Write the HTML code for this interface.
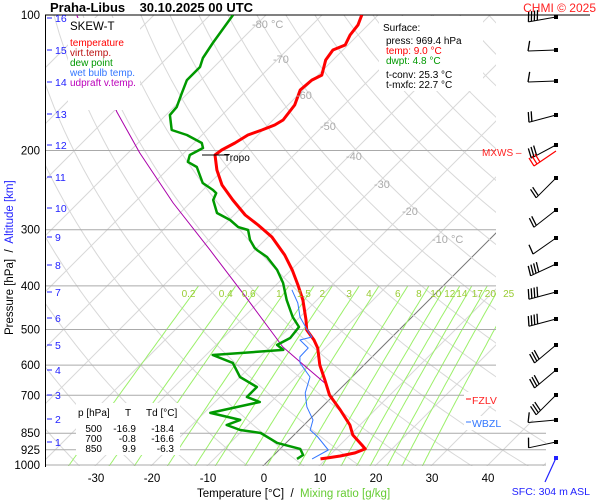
<!DOCTYPE html>
<html><head><meta charset="utf-8"><style>
body{margin:0;background:#fff;}
svg{display:block;font-family:"Liberation Sans",sans-serif;}
</style></head><body>
<svg id="c" width="600" height="500" viewBox="0 0 600 500" xmlns="http://www.w3.org/2000/svg">
<defs><clipPath id="pc"><polygon points="45,15 496,15 496,420 546,420 546,466 45,466"/></clipPath></defs>
<g id="grid" clip-path="url(#pc)"></g>
<g id="iso"></g>
<g id="series" clip-path="url(#pc)"></g>
<g id="labels"></g>
<g id="barbs"></g>
</svg>
<script>
// ---- data ----
const tempP=[100,105.2,110.8,116.6,119.6,125.9,136,139.5,146.8,158.5,171.1,175.6,180.1,184.8,192.5,199.5,204.7,221,238.6,257.7,278.3,292.9,311.4,341.5,368.6,398,430,476,501,527.5,549.5,599.5,647.5,699,754.7,815,857.7,902.6,921,940,955,965,969.4];
const tempT=[-62.9,-61.8,-61.4,-60.5,-61.8,-61.3,-59.3,-60.2,-60.5,-58.8,-58.2,-58.8,-60.2,-61.8,-62.7,-63.8,-64.1,-61.1,-57.5,-52.9,-48.0,-43.9,-39.3,-33.8,-29.8,-26.1,-22.5,-18.4,-16.5,-13.4,-11.3,-7.9,-4.3,-0.8,3.8,8.2,10.5,13.9,15.2,14.1,12.0,10.0,9.0];
const dewP=[100,109.6,115.4,124.6,130.5,139.5,149,160.2,166.8,180.1,184.8,192.5,197.5,204.7,212.1,217.7,236.2,244.9,248.7,257.7,275.4,285.5,296,300.5,316,329.5,333,345,368.6,394,430,469,493.5,522,541,555,569.6,593,637.6,671,706,724.4,766,794,815,836,849,893,921,950,969.4];
const dewT=[-85.9,-85,-84.5,-83.6,-82.5,-82.5,-81.1,-79.5,-79.3,-76.3,-72.7,-68.6,-67.5,-68.6,-67.7,-65.2,-61.3,-58.2,-57.1,-56.4,-53.4,-49.8,-47.1,-44.8,-42.7,-40.4,-39.6,-36.6,-32.5,-29.1,-25.4,-21.3,-18.4,-18.0,-19.1,-17.1,-28.8,-23.8,-20,-15.2,-15.2,-12,-18.9,-12.3,-13.8,-10.5,-6.3,-1.6,3.6,5.2,4.8];
const wetP=[408,436.5,469,501,519.5,527.5,549.5,575,593,637.6,692,743,794,836,866.5,926,969.4];
const wetT=[-26.3,-22.9,-20,-16.4,-14.3,-15.9,-13,-12.9,-11.8,-7.5,-5.5,-2.7,0.7,2,4.6,8.8,7.5];
const parP=[100,164.3,202.6,261.7,333,430,546.8,593,657.6];
const parT=[-113.8,-89.3,-77.9,-63,-48,-32.3,-17.7,-11.6,-3.75];
const pTicks=[100,200,300,400,500,600,700,850,925,1000];
const tTicks=[-30,-20,-10,0,10,20,30,40];
const kmTicks=[16,15,14,13,12,11,10,9,8,7,6,5,4,3,2,1];
const kmY=[18,50,82,114,145,177,208,237,265,292,318,345,370,395,419,442];
const mixVals=[0.2,0.4,0.6,1,1.5,2,3,4,6,8,10,12,14,17,20,25];
// ---- axes ----
const NS="http://www.w3.org/2000/svg";
const yP=p=>15+450*Math.log10(p/100);
const xT=(t,p)=>264+5.6*t+(465-yP(p));
function el(tag,attrs,parent,txt){const e=document.createElementNS(NS,tag);for(const k in attrs)e.setAttribute(k,attrs[k]);if(txt!==undefined)e.textContent=txt;parent.appendChild(e);return e;}
const grid=document.getElementById('grid'),iso=document.getElementById('iso'),ser=document.getElementById('series'),lab=document.getElementById('labels'),bg=document.getElementById('barbs');
for(let t=-130;t<=50;t+=10){const l=el('line',{x1:xT(t,1050),y1:yP(1050),x2:xT(t,100),y2:yP(100),stroke:t===0?'#777':'#d8d8d8','stroke-width':1},grid);

}
for(let th=200;th<=500;th+=10){let d='';for(let p=1050;p>=100;p-=10){const t=th*Math.pow(p/1000,0.286)-273.15;d+=(d?'L':'M')+xT(t,p).toFixed(1)+','+yP(p).toFixed(1);}
const a=el('path',{d:d,fill:'none',stroke:'#d8d8d8','stroke-width':1},grid);

}
const tdOf=e=>{const l=Math.log(e/6.112);return 243.5*l/(17.67-l);};
mixVals.forEach(w=>{let d='';for(let p=1050;p>=400;p-=10){const e=w*p/(622+w);d+=(d?'L':'M')+xT(tdOf(e),p).toFixed(1)+','+yP(p).toFixed(1);}
const m=el('path',{d:d,fill:'none',stroke:'#9cf06a','stroke-width':1},grid);


const e4=w*400/(622+w);
const t=el('text',{x:xT(tdOf(e4),400)-10,y:297,'font-size':10,fill:'#99cc33','text-anchor':'middle'},lab,String(w));

});
pTicks.forEach(p=>{const y=yP(p);const ln=el('line',{x1:45,y1:y,x2:(p>=850?546:(p===100?590:496)),y2:y,stroke:p===100?'#000':'#aaa','stroke-width':1},iso);


const t=el('text',{x:40,y:y+4,'font-size':11.5,'text-anchor':'end',fill:'#000'},lab,String(p));

});
const ax=el('line',{x1:45.5,y1:15,x2:45.5,y2:467,stroke:'#000','stroke-width':1},iso);


tTicks.forEach(t=>{const x=264+5.6*t;const tx=el('text',{x:x,y:482,'font-size':11.5,'text-anchor':'middle'},lab,String(t));

});
kmTicks.forEach((k,i)=>{const y=kmY[i];el('line',{x1:47,y1:y,x2:52,y2:y,stroke:'#2222ff'},lab);
const t=el('text',{x:55,y:y+4,'font-size':10.5,fill:'#2222ff'},lab,String(k));

});
[['-80 °C',252,28],['-70',273,63],['-60',296,99],['-50',320,130],['-40',346,160],['-30',374,188],['-20',402,215],['-10 °C',432,243]].forEach(a=>{const t=el('text',{x:a[1],y:a[2],'font-size':11,fill:'#aaa'},lab,a[0]);

});
function line(P,T,color,w,name){let d='';P.forEach((p,i)=>{d+=(i?'L':'M')+xT(T[i],p).toFixed(1)+','+yP(p).toFixed(1);});
const s=el('path',{d:d,fill:'none',stroke:color,'stroke-width':w,'stroke-linejoin':'round'},ser);

}
line(parP,parT,'#aa00aa',1,'updraft-temp-line');
line(dewP,dewT,'#009900',2.5,'dew-point-line');
line(tempP,tempT,'#ff0000',3,'temperature-line');
line(wetP,wetT,'#3377ff',1,'wet-bulb-line');
// barbs
const barbs=[[17,170,4],[50,178,1],[81,178,1],[115,165,2],[145,152,3],[178,135,2],[210,142,2],[238,145,1],[264,155,4],[292,165,4],[319,165,4],[345,140,3],[370,140,3],[395,135,3],[420,175,1],[442,168,1]];
barbs.forEach(b=>{const x0=556,y0=b[0],a=b[1]*Math.PI/180,L=28;const ex=x0+L*Math.cos(a),ey=y0+L*Math.sin(a);
const g=el('g',{},bg);


el('line',{x1:x0,y1:y0,x2:ex,y2:ey,stroke:'#000','stroke-width':1},g);
el('rect',{x:x0-2,y:y0-2,width:4,height:4,fill:'#000'},g);
const ux=Math.cos(a),uy=Math.sin(a),nx=uy,ny=-ux;
for(let i=0;i<b[2];i++){const bx=ex-ux*3*i,by=ey-uy*3*i;el('line',{x1:bx,y1:by,x2:bx-nx*10-ux*2,y2:by-ny*10-uy*2,stroke:'#000','stroke-width':1.3},g);}});
const sfc=el('line',{x1:556,y1:458,x2:545,y2:482,stroke:'#2222ff','stroke-width':1.2},bg);


el('rect',{x:554,y:456,width:4,height:4,fill:'#2222ff'},bg);
const mx=el('path',{d:'M556,151 L534,166 M534,166 L529,158 M537,164 L532,156 M540,162 L535,154',stroke:'#ff0000',fill:'none','stroke-width':1.2},bg);


</script>
<svg width="600" height="500" style="position:absolute;left:0;top:0" xmlns="http://www.w3.org/2000/svg" font-family="Liberation Sans, sans-serif">
<text x="50" y="12" font-size="13" font-weight="bold">Praha-Libus&#160;&#160;&#160; 30.10.2025 00 UTC</text>
<text x="596" y="12" font-size="12" fill="#ff2222" text-anchor="end">CHMI © 2025</text>
<g>
<rect x="68" y="18" width="72" height="92" fill="#fff"/>
<text x="70" y="30" font-size="11.5">SKEW-T</text>
<text x="70" y="46" font-size="10" fill="#ff0000">temperature</text>
<text x="70" y="56" font-size="10" fill="#bb1111">virt.temp.</text>
<text x="70" y="66" font-size="10" fill="#009900">dew point</text>
<text x="70" y="76" font-size="10" fill="#3377ff">wet bulb temp.</text>
<text x="70" y="86" font-size="10" fill="#bb00bb">udpraft v.temp.</text>
</g>
<g>
<rect x="379" y="16" width="104" height="75" fill="#fff"/>
<text x="383" y="31" font-size="10">Surface:</text>
<text x="386" y="44" font-size="10">press: 969.4 hPa</text>
<text x="386" y="54" font-size="10" fill="#ff0000">temp: 9.0 °C</text>
<text x="386" y="64" font-size="10" fill="#009900">dwpt: 4.8 °C</text>
<text x="386" y="78" font-size="10">t-conv: 25.3 °C</text>
<text x="386" y="88" font-size="10">t-mxfc: 22.7 °C</text>
</g>
<g>
<rect x="76" y="403" width="104" height="52" fill="#fff"/>
<text x="78" y="416" font-size="10">p [hPa]</text><text x="125" y="416" font-size="10">T</text><text x="146" y="416" font-size="10">Td [°C]</text>
<text x="102" y="432" font-size="10" text-anchor="end">500</text><text x="136" y="432" font-size="10" text-anchor="end">-16.9</text><text x="174" y="432" font-size="10" text-anchor="end">-18.4</text>
<text x="102" y="442" font-size="10" text-anchor="end">700</text><text x="136" y="442" font-size="10" text-anchor="end">-0.8</text><text x="174" y="442" font-size="10" text-anchor="end">-16.6</text>
<text x="102" y="452" font-size="10" text-anchor="end">850</text><text x="136" y="452" font-size="10" text-anchor="end">9.9</text><text x="174" y="452" font-size="10" text-anchor="end">-6.3</text>
</g>
<g><line x1="202" y1="155" x2="229" y2="155" stroke="#000"/><text x="224" y="161" font-size="10">Tropo</text></g>
<g><text x="482" y="156" font-size="10" fill="#ff2222">MXWS –</text></g>
<g><rect x="464" y="392" width="44" height="14" fill="#fff"/><line x1="466" y1="399" x2="471" y2="399" stroke="#ff0000"/><text x="472" y="404" font-size="10.5" fill="#ff2222">FZLV</text></g>
<g><rect x="464" y="416" width="42" height="14" fill="#fff"/><line x1="466" y1="422" x2="471" y2="422" stroke="#3377ff"/><text x="472" y="427" font-size="10.5" fill="#3377ff">WBZL</text></g>
<text x="197" y="497" font-size="11.5">Temperature [°C]&#160; /&#160; <tspan fill="#66cc33">Mixing ratio [g/kg]</tspan></text>
<text transform="translate(13,335) rotate(-90)" font-size="11.5">Pressure [hPa]&#160; /&#160; <tspan fill="#2222ff">Altitude [km]</tspan></text>
<text x="590" y="495" font-size="10.5" fill="#2222ff" text-anchor="end">SFC: 304 m ASL</text>
</svg>
</body></html>
